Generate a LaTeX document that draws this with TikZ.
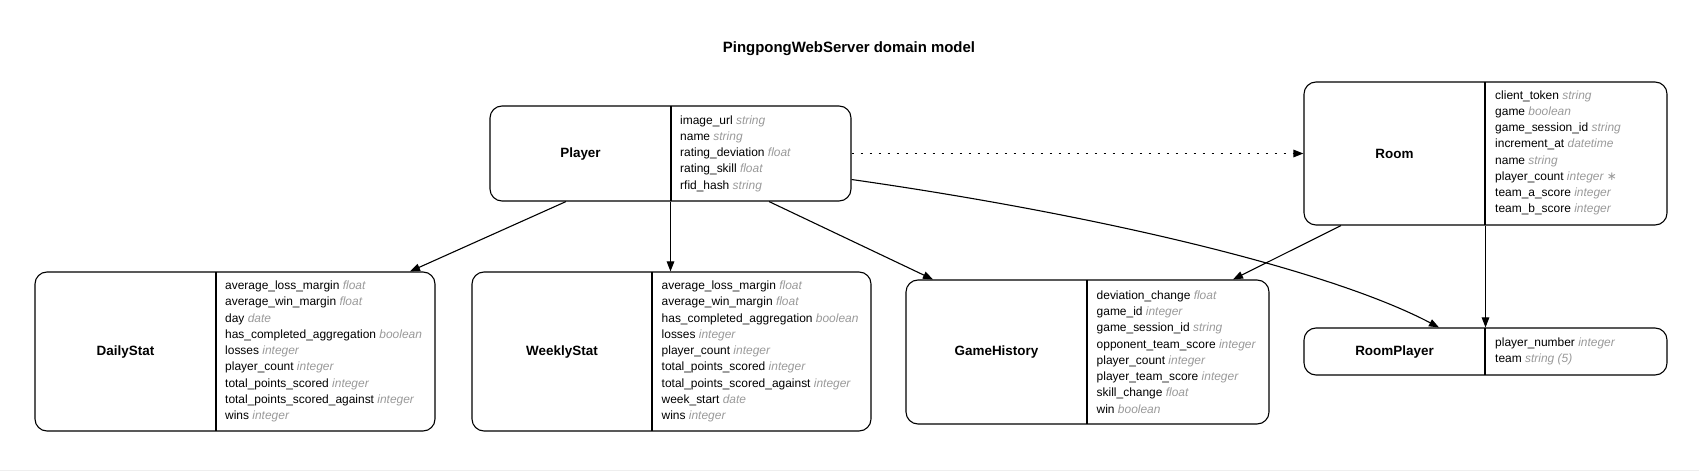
\documentclass[tikz,border=0pt]{standalone}
\usepackage{fontspec}
\setmainfont{Liberation Sans}
\newfontfamily\symfont{DejaVu Sans}
\usetikzlibrary{arrows.meta,calc}
\definecolor{typegrey}{HTML}{999999}
\definecolor{faint}{HTML}{EEEEEE}
\newcommand{\ty}[1]{{\color{typegrey}\itshape #1}}
\begin{document}
\begin{tikzpicture}[x=1bp,y=-1bp,
  entbox/.style={draw, line width=1.1bp, rounded corners=12bp, inner sep=0pt},
  entname/.style={font=\fontsize{13.5}{16}\selectfont\bfseries, inner sep=0pt},
  attrs/.style={font=\fontsize{12}{16.3}\selectfont, align=left, inner sep=0pt, anchor=west},
  divider/.style={line width=1.1bp},
  rel/.style={line width=1.1bp, -{Triangle[length=10bp,width=7.5bp]}},
  reldot/.style={rel, line width=1.4bp, dash pattern=on 2bp off 7bp}
]
\useasboundingbox (0,0) rectangle (1699,471);
\draw[faint, line width=1bp] (0,470.5) -- (1699,470.5);

\node[font=\fontsize{15}{18}\selectfont\bfseries] (title) at (849,48.5) {PingpongWebServer domain model};

% Player
\node[entbox, minimum width=361bp, minimum height=95bp] (player) at (670.5,153.5) {};
\draw[divider] (671,106) -- (671,201);
\node[entname] (playern) at (580.5,154) {Player};
\node[attrs] (playera) at (680,153.5) {image\_url \ty{string}\\name \ty{string}\\rating\_deviation \ty{float}\\rating\_skill \ty{float}\\rfid\_hash \ty{string}};

% Room
\node[entbox, minimum width=363bp, minimum height=143bp] (room) at (1485.5,153.5) {};
\draw[divider] (1485,82) -- (1485,225);
\node[entname] (roomn) at (1394.5,154) {Room};
\node[attrs] (rooma) at (1495,153) {client\_token \ty{string}\\game \ty{boolean}\\game\_session\_id \ty{string}\\increment\_at \ty{datetime}\\name \ty{string}\\player\_count \ty{integer {\upshape\symfont ∗}}\\team\_a\_score \ty{integer}\\team\_b\_score \ty{integer}};

% DailyStat
\node[entbox, minimum width=400bp, minimum height=159bp] (daily) at (235,351.5) {};
\draw[divider] (216,272) -- (216,431);
\node[entname] (dailyn) at (125.5,352) {DailyStat};
\node[attrs] (dailya) at (225,351.5) {average\_loss\_margin \ty{float}\\average\_win\_margin \ty{float}\\day \ty{date}\\has\_completed\_aggregation \ty{boolean}\\losses \ty{integer}\\player\_count \ty{integer}\\total\_points\_scored \ty{integer}\\total\_points\_scored\_against \ty{integer}\\wins \ty{integer}};

% WeeklyStat
\node[entbox, minimum width=399bp, minimum height=159bp] (weekly) at (671.5,351.5) {};
\draw[divider] (652,272) -- (652,431);
\node[entname] (weeklyn) at (562,352) {WeeklyStat};
\node[attrs] (weeklya) at (661.5,351.5) {average\_loss\_margin \ty{float}\\average\_win\_margin \ty{float}\\has\_completed\_aggregation \ty{boolean}\\losses \ty{integer}\\player\_count \ty{integer}\\total\_points\_scored \ty{integer}\\total\_points\_scored\_against \ty{integer}\\week\_start \ty{date}\\wins \ty{integer}};

% GameHistory
\node[entbox, minimum width=363bp, minimum height=144bp] (gamehist) at (1087.5,352) {};
\draw[divider] (1087,280) -- (1087,424);
\node[entname] (gamehistn) at (996.5,352.5) {GameHistory};
\node[attrs] (gamehista) at (1096.5,352) {deviation\_change \ty{float}\\game\_id \ty{integer}\\game\_session\_id \ty{string}\\opponent\_team\_score \ty{integer}\\player\_count \ty{integer}\\player\_team\_score \ty{integer}\\skill\_change \ty{float}\\win \ty{boolean}};

% RoomPlayer
\node[entbox, minimum width=363bp, minimum height=47bp] (roomplayer) at (1485.5,351.5) {};
\draw[divider] (1485,328) -- (1485,375);
\node[entname] (roomplayern) at (1394.5,352) {RoomPlayer};
\node[attrs] (roomplayera) at (1495,351.5) {player\_number \ty{integer}\\team \ty{string (5)}};

% Relationships
\draw[rel] ([xshift=-104.5bp]player.south) -- ([xshift=175bp]daily.north);
\draw[rel] (player.south) -- (player.south |- weekly.north);
\draw[rel] ([xshift=98.5bp]player.south) -- ([xshift=-154.5bp]gamehist.north);
\draw[reldot] (player.east) -- (room.west);
\draw[rel] ([yshift=-26bp]player.east) .. controls (1100,215) and (1330,270) .. ([xshift=-46.5bp]roomplayer.north);
\draw[rel] ([xshift=-144.5bp]room.south) -- ([xshift=145.5bp]gamehist.north);
\draw[rel] (room.south) -- (room.south |- roomplayer.north);
\end{tikzpicture}
\end{document}
